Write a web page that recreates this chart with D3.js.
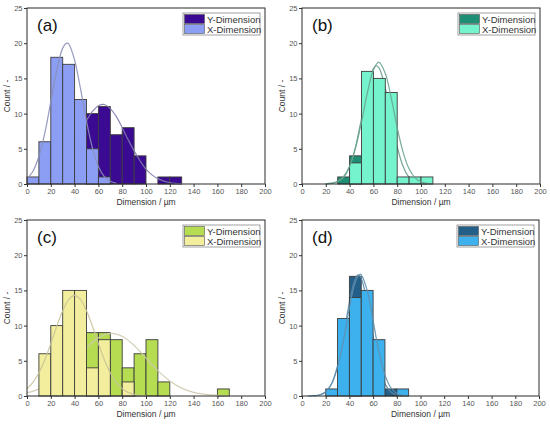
<!DOCTYPE html>
<html>
<head>
<meta charset="utf-8">
<script src="https://d3js.org/d3.v7.min.js"></script>
<style>
    body { margin: 0; background: #fff; }
    svg { display: block; font-family: "Liberation Sans", Arial, sans-serif; }
</style>
</head>
<body>
<svg id="drawing_region" width="550" height="426"></svg>
<script>
// bin starts (bin width 10 µm) and axis ticks
const bins = [0,10,20,30,40,50,60,70,80,90,100,110,120,130,140,150,160,170,180,190];
const binWidth = 10;
const xTicks = [0,20,40,60,80,100,120,140,160,180,200];
const yTicks = [0,5,10,15,20,25];
const seriesNames = ["Y-Dimension", "X-Dimension"];

// (a)
const countsA_Y = [0,0,0,0,0,10,11,7,8,4,0,1,1,0,0,0,0,0,0,0];
const countsA_X = [1,6,18,17,12,5,1,0,0,0,0,0,0,0,0,0,0,0,0,0];
const fitA_Y = [[20,1.06],[25,1.78],[30,2.78],[35,4.1],[40,5.7],[45,7.4],[50,9.0],[55,10.3],[60,11.1],[63.5,11.3],[65,11.3],[70,10.7],[75,9.6],[80,8.0],[85,6.3],[90,4.7],[95,3.3],[100,2.1],[105,1.3],[110,0.76],[115,0.41],[120,0.21],[125,0.1],[130,0.04]];
const fitA_X = [[0,0.72],[5,1.81],[10,3.9],[15,7.26],[20,11.7],[25,16.1],[30,19.3],[33.5,20.0],[35,19.9],[40,17.6],[45,13.5],[50,8.9],[55,5.1],[60,2.5],[65,1.06],[70,0.39],[75,0.12]];

// (b)
const countsB_Y = [0,0,0,1,4,0,0,0,0,0,0,0,0,0,0,0,0,0,0,0];
const countsB_X = [0,0,0,0,3,16,15,13,1,1,1,0,0,0,0,0,0,0,0,0];
const fitB_Y = [[20,0.02],[25,0.08],[30,0.31],[35,0.96],[40,2.48],[45,5.3],[50,9.3],[55,13.6],[60,16.4],[62.5,16.8],[65,16.4],[70,13.6],[75,9.3],[80,5.3],[85,2.48],[90,0.96],[95,0.31],[100,0.08],[105,0.02]];
const fitB_X = [[20,0.03],[25,0.12],[30,0.38],[35,1.07],[40,2.53],[45,5.1],[50,8.8],[55,13.0],[60,16.2],[64.5,17.3],[70,15.7],[75,12.2],[80,8.0],[85,4.5],[90,2.16],[95,0.88],[100,0.31],[105,0.09],[110,0.02]];

// (c)
const countsC_Y = [0,0,0,0,0,9,9,8,4,6,8,2,0,0,0,0,1,0,0,0];
const countsC_X = [0,6,10,15,15,4,8,0,2,0,0,0,0,0,0,0,0,0,0,0];
const fitC_Y = [[0,0.44],[10,0.97],[20,1.9],[30,3.28],[40,5.03],[50,6.85],[60,8.29],[71,8.9],[80,8.48],[90,7.18],[100,5.4],[110,3.6],[120,2.14],[130,1.12],[140,0.52],[150,0.22],[160,0.08],[170,0.03]];
const fitC_X = [[0,1.05],[5,1.94],[10,3.29],[15,5.15],[20,7.44],[25,9.9],[30,12.1],[35,13.7],[40,14.3],[45,13.7],[50,12.1],[55,9.9],[60,7.44],[65,5.15],[70,3.29],[75,1.94],[80,1.05],[85,0.52],[90,0.24],[95,0.1],[100,0.04]];

// (d)
const countsD_Y = [0,0,0,0,17,0,0,1,0,0,0,0,0,0,0,0,0,0,0,0];
const countsD_X = [0,0,1,11,14,15,8,0,1,0,0,0,0,0,0,0,0,0,0,0];
const fitD_Y = [[10,0.03],[15,0.14],[20,0.56],[25,1.73],[30,4.3],[35,8.5],[40,13.3],[45,16.7],[47.5,17.2],[50,16.7],[55,13.3],[60,8.5],[65,4.3],[70,1.73],[75,0.56],[80,0.14],[85,0.03]];
const fitD_X = [[5,0.01],[10,0.04],[15,0.17],[20,0.61],[25,1.74],[30,4.1],[35,7.9],[40,12.5],[45,16.2],[49,17.3],[50,17.2],[55,15.0],[60,10.7],[65,6.2],[70,3.0],[75,1.17],[80,0.38],[85,0.1],[90,0.02]];

class Histogram {

    constructor( config, data ) {
        this.config = {
            parent: config.parent,
            left: config.left,
            top: config.top,
            width: config.width || 238,
            height: config.height || 176,
            label: config.label,
            colorY: config.colorY,
            colorX: config.colorX,
            curveY: config.curveY,
            curveX: config.curveX
        }
        this.data = data;
        this.init();
    }

    init() {
        let self = this;

        self.chart = d3.select( self.config.parent ).append('g')
            .attr('transform', `translate(${self.config.left}, ${self.config.top})`);

        self.xscale = d3.scaleLinear()
            .domain( [0, 200] )
            .range( [0, self.config.width] );

        self.yscale = d3.scaleLinear()
            .domain( [0, 25] )
            .range( [self.config.height, 0] );

        self.xaxis = d3.axisBottom( self.xscale )
            .tickValues( xTicks )
            .tickSize( 3 )
            .tickSizeOuter( 0 );

        self.yaxis = d3.axisLeft( self.yscale )
            .tickValues( yTicks )
            .tickSize( 3 )
            .tickSizeOuter( 0 );

        self.line = d3.line()
            .x( d => self.xscale( d[0] ) )
            .y( d => self.yscale( d[1] ) )
            .curve( d3.curveCatmullRom );
    }

    drawBars( counts, color ) {
        let self = this;
        const rows = bins.map( (b, i) => ({ bin: b, count: counts[i] }) )
            .filter( d => d.count > 0 );

        self.chart.append('g').selectAll('rect').data( rows )
            .enter()
            .append('rect')
            .attr('x', d => self.xscale( d.bin ))
            .attr('y', d => self.yscale( d.count ))
            .attr('width', d => self.xscale( d.bin + binWidth ) - self.xscale( d.bin ))
            .attr('height', d => self.yscale( 0 ) - self.yscale( d.count ))
            .attr('fill', color)
            .attr('stroke', '#3c3c3c')
            .attr('stroke-width', 0.9);
    }

    drawCurve( points, color ) {
        let self = this;
        self.chart.append('path')
            .attr('d', self.line( points ))
            .attr('fill', 'none')
            .attr('stroke', color)
            .attr('stroke-width', 1.2)
            .attr('stroke-opacity', 0.9);
    }

    render() {
        let self = this;
        const w = self.config.width, h = self.config.height;

        // Y layer first, X layer on top
        self.drawBars( self.data.yCounts, self.config.colorY );
        self.drawCurve( self.data.yFit, self.config.curveY );
        self.drawBars( self.data.xCounts, self.config.colorX );
        self.drawCurve( self.data.xFit, self.config.curveX );

        self.chart.append('rect')
            .attr('width', w)
            .attr('height', h)
            .attr('fill', 'none')
            .attr('stroke', '#2a2a2a')
            .attr('stroke-width', 1);

        const xg = self.chart.append('g')
            .attr('transform', `translate(0, ${h})`)
            .call( self.xaxis );
        const yg = self.chart.append('g')
            .call( self.yaxis );

        [xg, yg].forEach( g => {
            g.select('.domain').remove();
            g.selectAll('.tick line').attr('stroke', '#333');
            g.selectAll('.tick text')
                .attr('fill', '#555')
                .attr('font-size', '7.5px')
                .attr('font-family', '"Liberation Sans", Arial, sans-serif');
        });
        xg.selectAll('.tick text').attr('dy', '0.55em');
        yg.selectAll('.tick text').attr('x', -4.5);

        self.chart.append('text')
            .attr('x', w / 2)
            .attr('y', h + 21)
            .attr('text-anchor', 'middle')
            .attr('font-size', '8.5px')
            .attr('fill', '#333')
            .text('Dimension / µm');

        self.chart.append('text')
            .attr('transform', `translate(-17, ${h / 2}) rotate(-90)`)
            .attr('text-anchor', 'middle')
            .attr('font-size', '8.5px')
            .attr('fill', '#333')
            .text('Count / -');

        self.chart.append('text')
            .attr('x', 10)
            .attr('y', 23)
            .attr('font-size', '17px')
            .attr('fill', '#111')
            .text( self.config.label );

        // legend
        const lg = self.chart.append('g')
            .attr('transform', `translate(${w - 82}, 5)`);
        lg.append('rect')
            .attr('width', 77)
            .attr('height', 22)
            .attr('fill', '#fff')
            .attr('stroke', '#8a8a8a')
            .attr('stroke-width', 0.8);
        const colors = [self.config.colorY, self.config.colorX];
        seriesNames.forEach( (name, i) => {
            lg.append('rect')
                .attr('x', 1.5)
                .attr('y', 1.5 + i * 10)
                .attr('width', 20)
                .attr('height', 9)
                .attr('fill', colors[i])
                .attr('stroke', '#555')
                .attr('stroke-width', 0.6);
            lg.append('text')
                .attr('x', 24)
                .attr('y', 9.5 + i * 10)
                .attr('font-size', '9.5px')
                .attr('fill', '#333')
                .text( name );
        });
    }
}

const panels = [
    { cfg: { label: '(a)', left: 27, top: 8, colorY: '#3b0a92', colorX: '#8c9ef4', curveY: '#7f7ca8', curveX: '#8a8fb8' },
      data: { yCounts: countsA_Y, xCounts: countsA_X, yFit: fitA_Y, xFit: fitA_X } },
    { cfg: { label: '(b)', left: 302, top: 8, colorY: '#1e8f74', colorX: '#74f3cc', curveY: '#5f9a87', curveX: '#6aa390' },
      data: { yCounts: countsB_Y, xCounts: countsB_X, yFit: fitB_Y, xFit: fitB_X } },
    { cfg: { label: '(c)', left: 27, top: 220, colorY: '#b6dc52', colorX: '#f2ee9e', curveY: '#cfcbae', curveX: '#c8c399' },
      data: { yCounts: countsC_Y, xCounts: countsC_X, yFit: fitC_Y, xFit: fitC_X } },
    { cfg: { label: '(d)', left: 302, top: 220, width: 237, colorY: '#245f8a', colorX: '#3db1ee', curveY: '#5a86a5', curveX: '#5f8fae' },
      data: { yCounts: countsD_Y, xCounts: countsD_X, yFit: fitD_Y, xFit: fitD_X } }
];

panels.forEach( p => {
    p.cfg.parent = '#drawing_region';
    const hist = new Histogram( p.cfg, p.data );
    hist.render();
});
</script>
</body>
</html>
